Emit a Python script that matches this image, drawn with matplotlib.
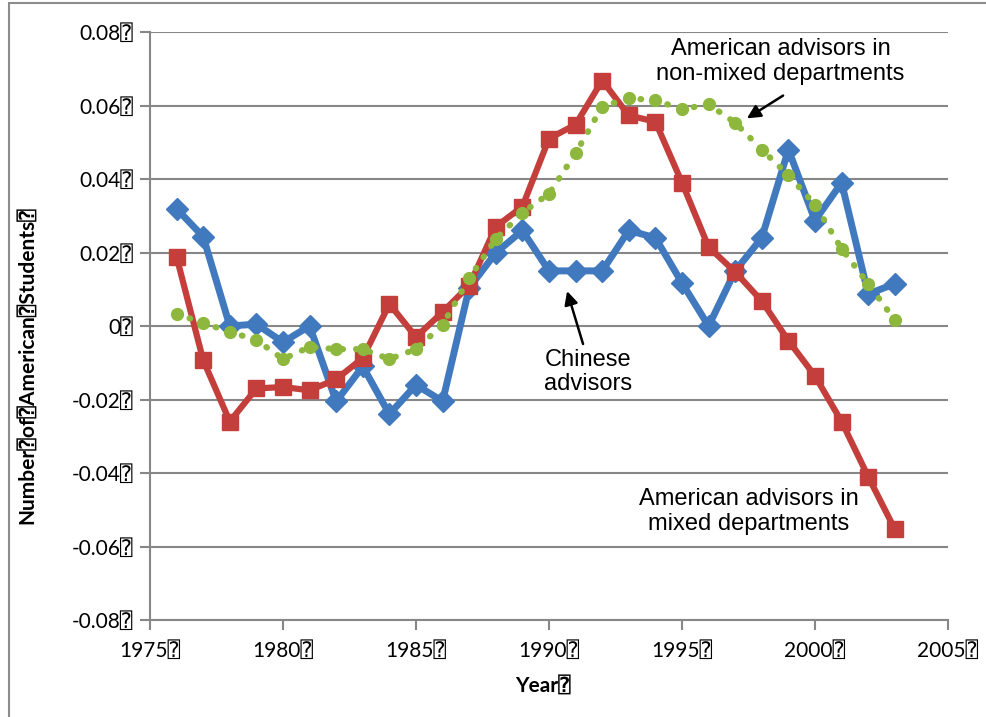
import matplotlib
matplotlib.use("Agg")
import matplotlib.pyplot as plt
from matplotlib.patches import Rectangle

years = list(range(1976, 2004))
chinese = [0.0319, 0.0243, 0.0000, 0.0005, -0.0044, 0.0000, -0.0205, -0.0110, -0.0240, -0.0160,
           -0.0205, 0.0104, 0.0199, 0.0260, 0.0150, 0.0150, 0.0150, 0.0260, 0.0240, 0.0117,
           0.0000, 0.0150, 0.0240, 0.0480, 0.0287, 0.0390, 0.0087, 0.0115]
mixed = [0.0188, -0.0093, -0.0260, -0.0170, -0.0166, -0.0175, -0.0145, -0.0087, 0.0060, -0.0030,
         0.0038, 0.0110, 0.0270, 0.0325, 0.0510, 0.0548, 0.0668, 0.0573, 0.0556, 0.0390,
         0.0215, 0.0147, 0.0068, -0.0040, -0.0136, -0.0260, -0.0410, -0.0553]
nonmixed = [0.0033, 0.0008, -0.0016, -0.0038, -0.0090, -0.0057, -0.0063, -0.0063, -0.0090, -0.0063,
            0.0003, 0.0130, 0.0237, 0.0308, 0.0360, 0.0470, 0.0597, 0.0620, 0.0614, 0.0590,
            0.0603, 0.0553, 0.0480, 0.0410, 0.0330, 0.0210, 0.0115, 0.0016]

B = "\u2370"
xticks = [1975, 1980, 1985, 1990, 1995, 2000, 2005]
xticklabels = [f"{t}{B}" for t in xticks]
yticks = [-0.08, -0.06, -0.04, -0.02, 0.0, 0.02, 0.04, 0.06, 0.08]
yticklabels = ["-0.08", "-0.06", "-0.04", "-0.02", "0", "0.02", "0.04", "0.06", "0.08"]
yticklabels = [f"{t}{B}" for t in yticklabels]

tickfont = ["Lato", "DejaVu Sans Mono", "DejaVu Sans"]
annfont = ["Liberation Sans", "DejaVu Sans"]

W, H = 987, 717
fig = plt.figure(figsize=(W / 100, H / 100), dpi=100)
fig.patches.append(Rectangle((9 / W, -0.1), 1.2, 1.1 - 3 / H, transform=fig.transFigure,
                             fill=False, edgecolor="#8c8c8c", linewidth=1.5))
ax = fig.add_axes([150 / W, 1 - 620 / H, (948 - 150) / W, (620 - 32) / H])

blue = "#4179bf"
red = "#c43f3c"
green = "#8db83d"

ax.plot(years, chinese, color=blue, lw=5, marker="D", ms=11, mfc=blue, mec=blue, zorder=4)
ax.plot(years, mixed, color=red, lw=4.5, marker="s", ms=11.5, mfc=red, mec=red, zorder=5)
ax.plot(years, nonmixed, color=green, lw=4.5, ls=(0, (0.1, 2.1)), dash_capstyle="round",
        marker="o", ms=8.5, mfc=green, mec=green, zorder=6)

ax.set_xlim(1975, 2005)
ax.set_ylim(-0.08, 0.08)
ax.set_xticks(xticks)
ax.set_xticklabels(xticklabels, fontfamily=tickfont, fontsize=15)
ax.set_yticks(yticks)
ax.set_yticklabels(yticklabels, fontfamily=tickfont, fontsize=15)
ax.yaxis.grid(True, color="#878787", lw=1.5)
ax.set_axisbelow(True)
for s in ["top", "right"]:
    ax.spines[s].set_visible(False)
for s in ["left", "bottom"]:
    ax.spines[s].set_color("#878787")
    ax.spines[s].set_linewidth(1.5)
ax.tick_params(axis="both", color="#878787", width=1.5, length=7, direction="out")
ax.tick_params(axis="x", pad=8)
ax.tick_params(axis="y", pad=5)

fig.text(27 / W, 1 - 365 / H, f"Number{B}of{B}American{B}Students{B}", rotation=90,
         ha="center", va="center", fontsize=15, fontweight="bold", fontfamily=tickfont)
fig.text(543 / W, 1 - 686 / H, f"Year{B}", ha="center", va="center", fontsize=15,
         fontweight="bold", fontfamily=tickfont)

arrow = dict(arrowstyle="-|>", color="black", lw=1.8, mutation_scale=20, shrinkA=0, shrinkB=0)
ax.text(1998.7, 0.0720, "American advisors in\nnon-mixed departments", ha="center", va="center",
        fontsize=17, fontfamily=annfont, linespacing=1.15)
ax.annotate("", xy=(1997.44, 0.0565), xytext=(1998.8, 0.0627), arrowprops=arrow)
ax.text(1991.45, -0.0125, "Chinese\nadvisors", ha="center", va="center",
        fontsize=17, fontfamily=annfont, linespacing=1.15)
ax.annotate("", xy=(1990.68, 0.0095), xytext=(1991.28, -0.0049), arrowprops=arrow)
ax.text(1997.5, -0.0505, "American advisors in\nmixed departments", ha="center", va="center",
        fontsize=17, fontfamily=annfont, linespacing=1.15)

fig.savefig("out.png", dpi=100)
